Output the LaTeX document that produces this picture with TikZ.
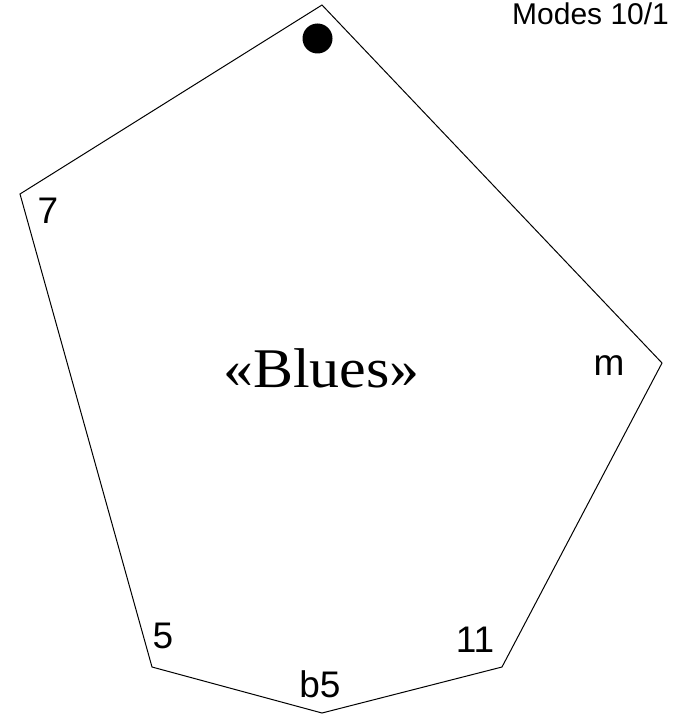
\documentclass[tikz,border=0pt]{standalone}
\usepackage{fontspec}
\setmainfont{Liberation Sans}
\newfontfamily\titlefont{Liberation Serif}
\usepackage{tikz}

\begin{document}
\begin{tikzpicture}[
  x=1pt, y=-1pt,
  edge/.style={draw=black, line width=1pt},
  lbl/.style={anchor=base, inner sep=0pt, font=\fontsize{37}{40}\selectfont},
  hdr/.style={anchor=base west, inner sep=0pt, font=\fontsize{30}{34}\selectfont},
  title/.style={anchor=base, inner sep=0pt, font=\titlefont\fontsize{56}{60}\selectfont}
]
\useasboundingbox (0,0) rectangle (673,717);
% corners of the polygon
\coordinate (top) at (322,5);
\coordinate (right) at (662,363);
\coordinate (lowright) at (502,667);
\coordinate (bottom) at (322,713);
\coordinate (lowleft) at (152,667);
\coordinate (left) at (20,194);
\draw[edge] (top) -- (right) -- (lowright) -- (bottom) -- (lowleft) -- (left) -- cycle;
% root marker
\fill (317.5,38.5) circle (15);
% degree labels
\node[lbl] (seven) at (48,223) {7};
\node[lbl] (minor) at (609,375) {m};
\node[lbl] (eleven) at (475,652) {11};
\node[lbl] (flatfive) at (320,697) {b5};
\node[lbl] (five) at (163,648) {5};
\node[title] (blues) at (321.5,387) {\scalebox{1.07}[1]{«Blues»}};
\node[hdr] (modes) at (512,25) {Modes 10/1};
\end{tikzpicture}
\end{document}
